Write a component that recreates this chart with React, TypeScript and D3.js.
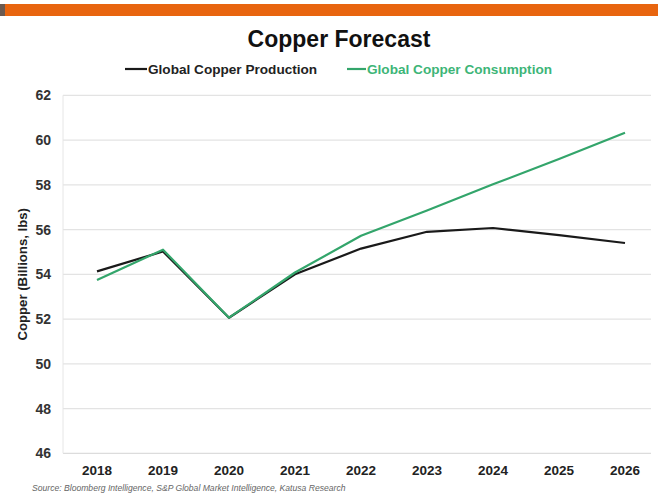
import React from "react";
import * as d3 from "d3";

const years = ["2018", "2019", "2020", "2021", "2022", "2023", "2024", "2025", "2026"];
const production = [54.13, 55.02, 52.06, 54.0, 55.15, 55.9, 56.07, 55.75, 55.4];
const consumption = [53.75, 55.1, 52.06, 54.08, 55.72, 56.85, 58.02, 59.15, 60.33];
const yTicks = [46, 48, 50, 52, 54, 56, 58, 60, 62];

const W = 658;
const H = 504;
const FONT = "'Liberation Sans', Arial, sans-serif";
const GREEN = "#33a56b";
const BLACK = "#1a1a1a";

export default function App() {
  const x = d3.scalePoint<string>().domain(years).range([97, 625]);
  const y = d3.scaleLinear().domain([46, 62]).range([453.3, 95.3]);
  const plotLeft = 63;
  const plotRight = 651;

  const line = d3
    .line<number>()
    .x((_, i) => x(years[i]) as number)
    .y((d) => y(d));

  return (
    <svg
      width={W}
      height={H}
      style={{ position: "absolute", left: 0, top: 0, background: "#fff" }}
      fontFamily={FONT}
    >
      <rect x={0} y={0} width={W} height={H} fill="#fff" />
      <rect x={0} y={4} width={W} height={12} fill="#e8650f" />
      <rect x={0} y={4} width={5} height={12} fill="#6b5a50" />

      <text x={339} y={47} textAnchor="middle" fontSize={23} fontWeight="bold" fill="#111">
        Copper Forecast
      </text>

      <line x1={125} x2={147} y1={69} y2={69} stroke={BLACK} strokeWidth={2.2} />
      <text x={148} y={73.5} fontSize={13.6} fontWeight="bold" fill="#222">
        Global Copper Production
      </text>
      <line x1={347} x2={366} y1={69} y2={69} stroke={GREEN} strokeWidth={2.2} />
      <text x={367} y={73.5} fontSize={13.6} fontWeight="bold" fill="#3db577">
        Global Copper Consumption
      </text>

      {yTicks.map((t) => (
        <g key={t}>
          {t !== 46 && (
            <line x1={plotLeft} x2={plotRight} y1={y(t)} y2={y(t)} stroke="#e3e3e3" strokeWidth={1.2} />
          )}
          <text x={51} y={y(t) + 5} textAnchor="end" fontSize={14} fontWeight="bold" fill="#333">
            {t}
          </text>
        </g>
      ))}
      <line x1={plotLeft} x2={plotRight} y1={y(46)} y2={y(46)} stroke="#dcdcdc" strokeWidth={1.2} />
      <line x1={plotLeft} x2={plotLeft} y1={y(62)} y2={y(46)} stroke="#e6e6e6" strokeWidth={1} />

      {years.map((yr) => (
        <text key={yr} x={x(yr)} y={475} textAnchor="middle" fontSize={13.5} fontWeight="bold" fill="#222">
          {yr}
        </text>
      ))}

      <text
        transform={`translate(27,${y(54)}) rotate(-90)`}
        textAnchor="middle"
        fontSize={13.2}
        fontWeight="bold"
        fill="#222"
      >
        Copper (Billions, lbs)
      </text>

      <path d={line(production) || ""} fill="none" stroke={BLACK} strokeWidth={2.2} strokeLinejoin="round" />
      <path d={line(consumption) || ""} fill="none" stroke={GREEN} strokeWidth={2.2} strokeLinejoin="round" />

      <text x={32} y={491} fontSize={8.6} fontStyle="italic" fill="#666">
        Source: Bloomberg Intelligence, S&amp;P Global Market Intelligence, Katusa Research
      </text>
    </svg>
  );
}
